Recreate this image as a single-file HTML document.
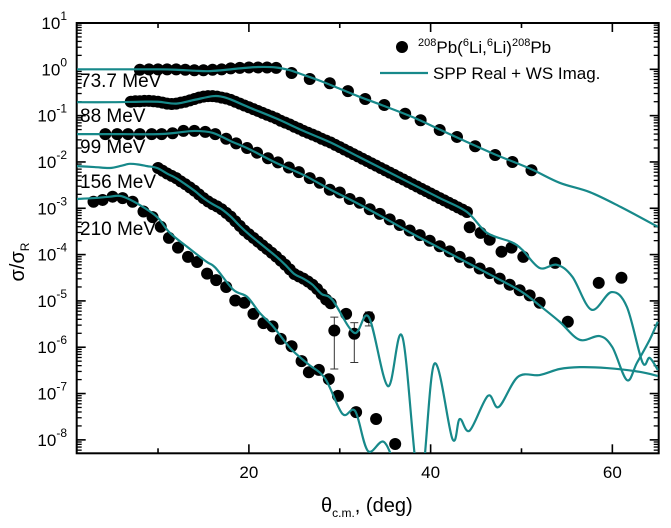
<!DOCTYPE html>
<html><head><meta charset="utf-8"><style>
html,body{margin:0;padding:0;background:#fff;}
svg{display:block;font-family:"Liberation Sans",Arial,sans-serif;}
</style></head><body>
<svg id="chart" width="671" height="528" viewBox="0 0 671 528">
<defs><clipPath id="plotclip"><rect x="77" y="23" width="582" height="430"/></clipPath></defs>
<g id="axes"></g>
<g id="dots" clip-path="url(#plotclip)"></g>
<g id="curves" clip-path="url(#plotclip)"></g>
<g id="labels" font-size="19" fill="#000">
<text x="80" y="87">73.7 MeV</text>
<text x="80" y="122">88 MeV</text>
<text x="80" y="153">99 MeV</text>
<text x="80" y="188">156 MeV</text>
<text x="80" y="235">210 MeV</text>
</g>
<g id="legend">
<circle cx="402" cy="47" r="6" fill="#000"/>
<text x="418" y="53" font-size="17"><tspan font-size="11" dy="-7">208</tspan><tspan dy="7">Pb(</tspan><tspan font-size="11" dy="-7">6</tspan><tspan dy="7">Li,</tspan><tspan font-size="11" dy="-7">6</tspan><tspan dy="7">Li)</tspan><tspan font-size="11" dy="-7">208</tspan><tspan dy="7">Pb</tspan></text>
<line x1="380" y1="73" x2="428" y2="73" stroke="#17898a" stroke-width="2.2"/>
<text x="433" y="79" font-size="17">SPP Real + WS Imag.</text>
</g>
<text x="321" y="512" font-size="20">θ<tspan font-size="12" dy="5">c.m.</tspan><tspan dy="-5">, (deg)</tspan></text>
<text transform="translate(24,262) rotate(-90)" text-anchor="middle" font-size="20">σ/σ<tspan font-size="12" dy="5">R</tspan></text>
</svg>
<script>
// ---- axis ranges ----
const xMin = 1.05, xMax = 65.1, logMin = -8.29, logMax = 1;
const xTicksLabeled = [20, 40, 60];
const xTicksMinor = [10, 30, 50];
const yDecades = [1, 0, -1, -2, -3, -4, -5, -6, -7, -8];

// ---- 73.7 MeV ----
const th73 = [8,9,10,11,12,13,14,15,16,17,18,19,20,21,22,23,24.7,26.7,28.9,30.9,32.8,34.9,37.2,38.9,41.0,42.9,44.9,47.1,49.0,51.1];
const lg73 = [-0.01,0,0,0,0,-0.01,-0.02,-0.02,-0.01,0,0.02,0.03,0.04,0.04,0.04,0.03,-0.08,-0.21,-0.30,-0.47,-0.64,-0.77,-0.96,-1.10,-1.31,-1.46,-1.66,-1.85,-2.00,-2.18];
const cth73 = [1,5,8,10,12,14,15.5,17,19,21,23,24.5,26,28,30,32,35,38,41,44,47,51,54.2,57.5,60.9,65];
const clg73 = [0,0,0,0,-0.01,-0.03,-0.04,-0.02,0.02,0.05,0.04,-0.02,-0.12,-0.26,-0.42,-0.58,-0.80,-1.03,-1.30,-1.57,-1.83,-2.15,-2.45,-2.65,-2.97,-3.40];

// ---- 88 MeV ----
const th88 = [7,7.5,8,8.5,9,9.5,10,10.5,11,11.5,12,12.5,13,13.5,14,14.5,15,15.5,16,16.5,17,17.5,18,18.5,19,19.5,20,20.5,21,21.5,22,22.5,23,23.5,24,24.5,25,25.5,26,26.5,27,27.5,28,28.5,29,29.5,30,30.5,31,31.5,32,32.5,33,33.5,34,34.5,35,35.5,36,36.5,37,37.5,38,38.5,39,39.5,40,40.5,41,41.5,42,42.5,43,43.5,44,44.3,45.5,46.5,47.8,48.9,50.2,53.7,58.5,61.0];
const lg88 = [-0.70,-0.69,-0.69,-0.68,-0.68,-0.69,-0.70,-0.72,-0.74,-0.75,-0.74,-0.72,-0.70,-0.67,-0.64,-0.61,-0.59,-0.58,-0.58,-0.59,-0.61,-0.63,-0.66,-0.70,-0.74,-0.78,-0.82,-0.86,-0.90,-0.94,-0.98,-1.02,-1.06,-1.11,-1.15,-1.19,-1.24,-1.28,-1.33,-1.37,-1.41,-1.45,-1.50,-1.54,-1.58,-1.63,-1.68,-1.73,-1.78,-1.83,-1.88,-1.93,-1.98,-2.03,-2.08,-2.13,-2.18,-2.23,-2.28,-2.33,-2.38,-2.43,-2.48,-2.53,-2.58,-2.63,-2.68,-2.73,-2.78,-2.83,-2.88,-2.93,-2.98,-3.03,-3.08,-3.41,-3.53,-3.68,-3.94,-3.85,-4.05,-4.18,-4.61,-4.50];
const cth88 = [1,5,8,10,12,14,16,17,18,20,23,26,29,32,35,38,41,44,46.2,48.9,50.1,52,53.9,55.6,57.7,59.9,61.6,63.3,64.1,65];
const clg88 = [-0.71,-0.71,-0.70,-0.70,-0.74,-0.66,-0.58,-0.59,-0.65,-0.82,-1.06,-1.33,-1.58,-1.88,-2.18,-2.48,-2.78,-3.08,-3.53,-3.73,-3.90,-4.29,-4.22,-4.48,-5.19,-4.81,-5.13,-6.32,-6.23,-6.49];

// ---- 99 MeV ----
const th99 = [4.2,5.5,6.7,8.0,9.3,10.4,11.6,12.8,14.0,15.2,16.3,17.5,18.6,19.8,20.9,22.1,23.2,24.4,25.5,26.7,27.8,28.9,30.0,31.1,32.2,33.3,34.4,35.5,36.6,37.7,38.8,39.9,41.0,42.1,43.2,44.3,45.4,46.5,47.6,48.7,49.8,50.9,52.0,55.1];
const lg99 = [-1.40,-1.40,-1.40,-1.40,-1.40,-1.40,-1.38,-1.33,-1.33,-1.35,-1.40,-1.50,-1.60,-1.70,-1.80,-1.92,-2.01,-2.12,-2.22,-2.35,-2.45,-2.60,-2.66,-2.80,-2.88,-3.02,-3.12,-3.24,-3.36,-3.48,-3.58,-3.70,-3.82,-3.93,-4.05,-4.17,-4.30,-4.40,-4.52,-4.65,-4.77,-4.88,-5.04,-5.45];
const cth99 = [1,6,10,12,14,16,18,20,23,26,29,32,35,38,41,44,47,50,52,54.2,56.4,58.6,60,61.6,62.7,64.1,65];
const clg99 = [-1.40,-1.40,-1.40,-1.37,-1.33,-1.37,-1.55,-1.72,-2.02,-2.28,-2.60,-2.90,-3.22,-3.55,-3.86,-4.17,-4.48,-4.80,-5.10,-5.45,-5.84,-5.76,-6.00,-6.71,-6.34,-5.84,-5.45];

// ---- 156 MeV ----
const th156 = [10,10.5,11,11.5,12,12.5,13,13.5,14,14.5,15,15.5,16,16.5,17,17.5,18,18.5,19,19.5,20,20.5,21,21.5,22,22.5,23,23.5,24,24.5,25,25.5,26,26.5,27,27.5,28,28.5,29.0,29.4,30.7,31.6,33.2];
const lg156 = [-2.13,-2.19,-2.25,-2.30,-2.35,-2.42,-2.48,-2.55,-2.62,-2.70,-2.78,-2.85,-2.91,-2.96,-3.02,-3.10,-3.18,-3.28,-3.38,-3.48,-3.56,-3.64,-3.72,-3.80,-3.88,-3.96,-4.04,-4.13,-4.22,-4.32,-4.42,-4.47,-4.52,-4.58,-4.65,-4.74,-4.85,-4.97,-5.05,-5.64,-5.28,-5.71,-5.35];
const errTh156 = [29.4,31.6,33.2];
const errLo156 = [-6.47,-6.33,-5.54];
const errHi156 = [-5.35,-5.47,-5.24];
const cth156 = [1,3,4.7,6,6.9,8,8.8,9.9,11,12,13,14,15,16,17,18,19,20,21,22,23,24,25,26,27,28,29.2,31.6,33.2,35.3,36.9,38.8,40.4,42.4,43.2,44.3,46.3,47.5,49.6,52,54.2,56.4,59.4,63,65];
const clg156 = [-2.09,-2.11,-2.13,-2.08,-2.04,-2.06,-2.09,-2.13,-2.25,-2.35,-2.48,-2.62,-2.78,-2.91,-3.02,-3.18,-3.38,-3.56,-3.72,-3.88,-4.04,-4.22,-4.42,-4.52,-4.65,-4.85,-4.98,-5.69,-5.35,-6.84,-5.78,-9.0,-6.36,-7.98,-7.55,-7.80,-7.05,-7.29,-6.64,-6.60,-6.47,-6.43,-6.45,-6.53,-6.62];

// ---- 210 MeV ----
const th210 = [2.9,3.9,5.0,6.1,7.2,8.4,9.4,10.3,11.2,12.2,13.3,14.3,15.4,16.4,17.5,18.5,19.5,20.5,21.6,22.6,23.5,24.7,25.8,26.6,27.7,28.8,29.8,31.8,34.0,36.1];
const lg210 = [-2.86,-2.82,-2.75,-2.78,-2.86,-3.07,-3.19,-3.40,-3.64,-3.85,-4.05,-4.16,-4.41,-4.55,-4.70,-4.99,-5.04,-5.28,-5.48,-5.55,-5.82,-5.98,-6.30,-6.54,-6.49,-6.69,-7.05,-7.40,-7.55,-8.09];
const cth210 = [1,3,4.7,6,8,9.9,11.3,13.2,15.3,16.3,18.3,19.8,21.2,22.7,24.6,26.5,28.4,30.3,31.7,33.1,34.9,36.5,38];
const clg210 = [-2.80,-2.78,-2.75,-2.74,-2.93,-3.19,-3.53,-3.83,-4.15,-4.28,-4.76,-4.91,-5.26,-5.56,-6.03,-6.36,-6.68,-7.44,-7.38,-8.24,-8.05,-8.8,-9.5];

// ---- scales ----
const L = 76.7, R = 658.7, T = 23, B = 453.3;
const xs = t => L + (t - xMin) / (xMax - xMin) * (R - L);
const ys = l => T + (logMax - l) / (logMax - logMin) * (B - T);
const NS = 'http://www.w3.org/2000/svg';
const COLOR = '#17898a';
function mk(tag, attrs, parent) {
  const e = document.createElementNS(NS, tag);
  for (const k in attrs) e.setAttribute(k, attrs[k]);
  parent.appendChild(e);
  return e;
}
function splinePath(tx, ly) {
  const p = tx.map((t, i) => [xs(t), ys(ly[i])]);
  let d = 'M' + p[0][0].toFixed(2) + ',' + p[0][1].toFixed(2);
  for (let i = 0; i < p.length - 1; i++) {
    const p0 = p[Math.max(0, i - 1)], p1 = p[i], p2 = p[i + 1], p3 = p[Math.min(p.length - 1, i + 2)];
    const c1 = [p1[0] + (p2[0] - p0[0]) / 6, p1[1] + (p2[1] - p0[1]) / 6];
    const c2 = [p2[0] - (p3[0] - p1[0]) / 6, p2[1] - (p3[1] - p1[1]) / 6];
    d += 'C' + c1.map(v => v.toFixed(2)).join(',') + ' ' + c2.map(v => v.toFixed(2)).join(',') + ' ' + p2[0].toFixed(2) + ',' + p2[1].toFixed(2);
  }
  return d;
}

const axes = document.getElementById('axes');
const curves = document.getElementById('curves');
const dots = document.getElementById('dots');

const frame = mk('rect', {x: L, y: T, width: R - L, height: B - T, fill: 'none', stroke: '#000', 'stroke-width': 2}, axes);



yDecades.forEach(dec => {
  const y = ys(dec);
  [L, R].forEach(xx => {
    const dir = xx === L ? 1 : -1;
    const tk = mk('line', {x1: xx, y1: y, x2: xx + dir * 9, y2: y, stroke: '#000', 'stroke-width': 1.6}, axes);
    
    
  });
  const lab = mk('text', {x: 67, y: y + 6, 'text-anchor': 'end', 'font-size': 17}, axes);
  
  
  lab.appendChild(document.createTextNode('10'));
  const sup = mk('tspan', {dy: -9, 'font-size': 12}, lab);
  sup.textContent = String(dec);
  for (let m = 2; m <= 9; m++) {
    const lv = dec - 1 + Math.log10(m);
    if (lv < logMin) continue;
    const ym = ys(lv);
    [L, R].forEach(xx => {
      const dir = xx === L ? 1 : -1;
      const mt = mk('line', {x1: xx, y1: ym, x2: xx + dir * 5, y2: ym, stroke: '#000', 'stroke-width': 1.3}, axes);
      
      
    });
  }
});
xTicksLabeled.concat(xTicksMinor).forEach(t => {
  const x = xs(t);
  const major = xTicksLabeled.includes(t);
  const len = major ? 9 : 5;
  [[B, -1], [T, 1]].forEach(([yy, dir]) => {
    const tk = mk('line', {x1: x, y1: yy, x2: x, y2: yy + dir * len, stroke: '#000', 'stroke-width': 1.6}, axes);
    
    
  });
  if (major) {
    const lab = mk('text', {x: x, y: 478, 'text-anchor': 'middle', 'font-size': 17}, axes);
    
    
    lab.textContent = String(t);
  }
});

errTh156.forEach((t, i) => {
  const x = xs(t), y1 = ys(errHi156[i]), y2 = ys(errLo156[i]);
  const g = mk('g', {stroke: '#333', 'stroke-width': 1}, dots);
  
  
  mk('line', {x1: x, y1: y1, x2: x, y2: y2}, g);
  mk('line', {x1: x - 4, y1: y1, x2: x + 4, y2: y1}, g);
  mk('line', {x1: x - 4, y1: y2, x2: x + 4, y2: y2}, g);
});

[[th73, lg73, '73'], [th88, lg88, '88'], [th99, lg99, '99'], [th156, lg156, '156'], [th210, lg210, '210']].forEach(([tx, ly, n]) => {
  tx.forEach((t, i) => {
    const c = mk('circle', {cx: xs(t).toFixed(2), cy: ys(ly[i]).toFixed(2), r: 6, fill: '#000'}, dots);
    
    
  });
});

[[cth73, clg73, '73'], [cth88, clg88, '88'], [cth99, clg99, '99'], [cth156, clg156, '156'], [cth210, clg210, '210']].forEach(([tx, ly, n]) => {
  const path = mk('path', {d: splinePath(tx, ly), fill: 'none', stroke: COLOR, 'stroke-width': 2.2, 'stroke-linejoin': 'round'}, curves);
  
  
});
</script>
</body></html>
